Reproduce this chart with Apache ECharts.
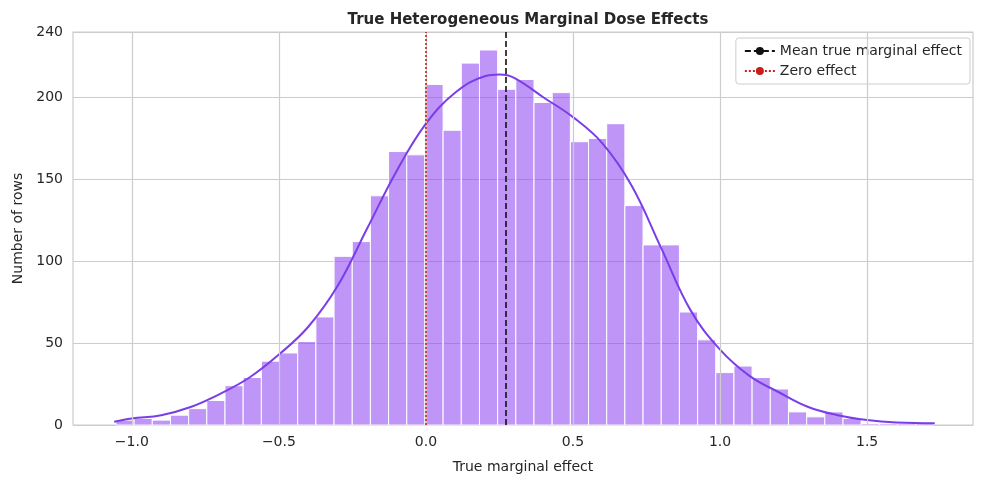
<!DOCTYPE html>
<html><head><meta charset="utf-8">
<script src="https://cdn.jsdelivr.net/npm/echarts@6/dist/echarts.min.js"></script>
<style>html,body{margin:0;background:#fff}#c{width:984px;height:484px}</style>
</head><body><div id="c"></div>
<script>
/* histogram of true marginal effects, seaborn look */
const binStart = -1.054, binWidth = 0.0618;
const counts = [3,4,3,6,10,15,24,29,39,44,51,66,103,112,140,167,165,208,180,221,229,205,211,197,203,173,175,184,134,110,110,69,52,32,36,29,22,8,5,8,4,1,1,1,1];
const kdeX = [-1.06,-1.0,-0.9,-0.8,-0.7,-0.6,-0.5,-0.4,-0.3,-0.2,-0.1,0,0.1,0.2,0.25,0.3,0.4,0.5,0.6,0.7,0.8,0.9,1.0,1.1,1.2,1.3,1.4,1.5,1.6,1.73];
const kdeY = [2,4,6,11,19,29,43,60,85,120,155,184,203,213,214,212,200,188,172,146,108,70,46,30,20,11,6,3,1.5,1];
const meanEffect = 0.27;
const gridLinesX = [-1, -0.5, 0, 0.5, 1, 1.5];

const font = 'DejaVu Sans';
const c = echarts.init(document.getElementById('c'));
const fmtX = v => (v < 0 ? '\u2212' : '') + Math.abs(v).toFixed(1);
c.setOption({
  animation: false,
  title: { text: 'True Heterogeneous Marginal Dose Effects', left: 523, top: 8, textAlign: 'center',
    textStyle: { fontFamily: font, fontSize: 15, fontWeight: 'bold', color: '#262626' } },
  grid: { left: 73, right: 11, top: 32, bottom: 59, show: true, borderColor: '#cccccc', borderWidth: 1.2 },
  legend: { top: 38, right: 14, orient: 'vertical', itemGap: 6, itemWidth: 30, itemHeight: 10,
    backgroundColor: '#fff', borderColor: '#cccccc', borderWidth: 1, borderRadius: 3, padding: [6, 8],
    textStyle: { fontFamily: font, fontSize: 14, color: '#262626' },
    data: ['Mean true marginal effect', 'Zero effect'] },
  xAxis: { type: 'value', min: -1.2, max: 1.86, interval: 0.1,
    name: 'True marginal effect', nameLocation: 'middle', nameGap: 35,
    nameTextStyle: { fontFamily: font, fontSize: 14, color: '#262626' },
    axisLine: { show: false }, axisTick: { show: false }, splitLine: { show: false },
    axisLabel: { fontFamily: font, fontSize: 14, color: '#262626', margin: 10,
      formatter: v => Math.abs(v * 2 - Math.round(v * 2)) < 1e-6 ? fmtX(v) : '' } },
  yAxis: { type: 'value', min: 0, max: 240, interval: 50,
    name: 'Number of rows', nameLocation: 'middle', nameGap: 45,
    nameTextStyle: { fontFamily: font, fontSize: 14, color: '#262626' },
    axisLine: { show: false }, axisTick: { show: false },
    splitLine: { lineStyle: { color: '#cccccc', width: 1.2 } },
    axisLabel: { fontFamily: font, fontSize: 14, color: '#262626', margin: 10 } },
  series: [
    { type: 'line', data: [], silent: true, z: 1,
      markLine: { symbol: 'none', silent: true, label: { show: false },
        lineStyle: { color: '#cccccc', width: 1.2, type: 'solid' },
        data: gridLinesX.map(x => ({ xAxis: x })) } },
    { type: 'custom', z: 2,
      data: counts.map((h, i) => [binStart + i * binWidth, binStart + (i + 1) * binWidth, h]),
      renderItem: (params, api) => {
        const p0 = api.coord([api.value(0), 0]), p1 = api.coord([api.value(1), api.value(2)]);
        return { type: 'rect', shape: { x: p0[0], y: p1[1], width: p1[0] - p0[0], height: p0[1] - p1[1] },
          style: { fill: 'rgba(138,63,240,0.55)', stroke: '#fff', lineWidth: 1 } };
      } },
    { type: 'line', z: 3, data: kdeX.map((x, i) => [x, kdeY[i]]), smooth: 0.4, symbol: 'none',
      lineStyle: { color: '#7a3de8', width: 2 } },
    { name: 'Mean true marginal effect', type: 'line', data: [], z: 4, symbol: 'none',
      itemStyle: { color: '#111' }, lineStyle: { color: '#111', width: 1.6, type: [6, 3] },
      markLine: { symbol: 'none', silent: true, label: { show: false },
        lineStyle: { color: '#111', width: 1.6, type: [6, 3] }, data: [{ xAxis: meanEffect }] } },
    { name: 'Zero effect', type: 'line', data: [], z: 4, symbol: 'none',
      itemStyle: { color: '#c81e1e' }, lineStyle: { color: '#c81e1e', width: 1.6, type: [2, 2] },
      markLine: { symbol: 'none', silent: true, label: { show: false },
        lineStyle: { color: '#c81e1e', width: 1.6, type: [2, 2] }, data: [{ xAxis: 0 }] } }
  ]
});
</script></body></html>
